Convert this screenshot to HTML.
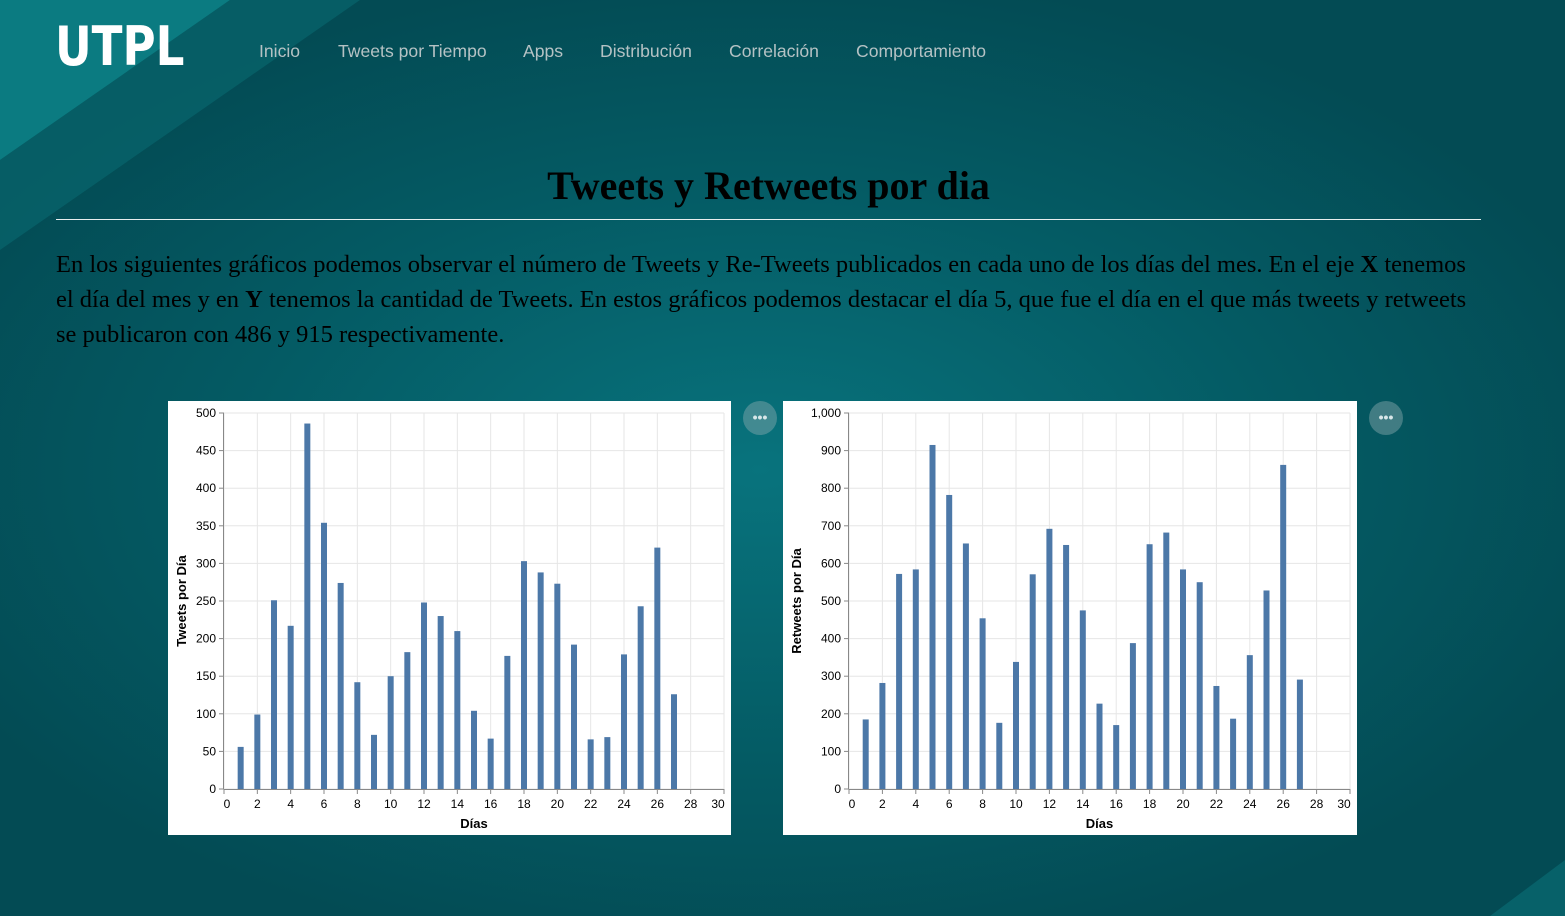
<!DOCTYPE html>
<html><head><meta charset="utf-8">
<style>
html,body{margin:0;padding:0;width:1565px;height:916px;overflow:hidden}
body{background:radial-gradient(ellipse 900px 500px at 760px 470px,#08737d 0%,#045a63 60%,#034b54 100%);font-family:"Liberation Sans",sans-serif;position:relative}
.abs{position:absolute}
#logo{left:55px;top:15px;color:#fff;font-size:54px;font-weight:bold;letter-spacing:0px;font-family:"DejaVu Sans Condensed","DejaVu Sans",sans-serif;transform:scaleX(0.93);transform-origin:left}
.nav{top:41px;color:#b5c2c4;font-size:17.6px}
#title{left:0;width:1537px;top:162px;text-align:center;font-family:"Liberation Serif",serif;font-weight:bold;font-size:40px;color:#000}
#hr{left:56px;top:219px;width:1425px;height:1px;background:#e8eeee}
#para{left:56px;top:247px;width:1418px;font-family:"Liberation Serif",serif;font-size:24.5px;line-height:35px;color:#000}
.panel{background:#fff;top:401px;height:434px}
.dots{width:34px;height:34px;border-radius:50%;background:rgba(140,170,175,0.45);top:401px;color:#d8e6e8;font-size:14px;text-align:center;line-height:32px;font-weight:bold}
</style></head><body>
<svg class="abs" style="left:0;top:0" width="1565" height="916">
<polygon points="0,0 230,0 0,160" fill="#0e878c" opacity="0.8"/>
<polygon points="230,0 360,0 0,250 0,160" fill="#0a6f75" opacity="0.5"/>
<polygon points="1565,860 1565,916 1490,916" fill="#0a7078" opacity="0.6"/>
</svg>
<div id="logo" class="abs">UTPL</div>
<div class="abs nav" style="left:259px">Inicio</div>
<div class="abs nav" style="left:338px">Tweets por Tiempo</div>
<div class="abs nav" style="left:523px">Apps</div>
<div class="abs nav" style="left:600px">Distribución</div>
<div class="abs nav" style="left:729px">Correlación</div>
<div class="abs nav" style="left:856px">Comportamiento</div>
<div id="title" class="abs">Tweets y Retweets por dia</div>
<div id="hr" class="abs"></div>
<div id="para" class="abs">En los siguientes gráficos podemos observar el número de Tweets y Re-Tweets publicados en cada uno de los días del mes. En el eje <b>X</b> tenemos el día del mes y en <b>Y</b> tenemos la cantidad de Tweets. En estos gráficos podemos destacar el día 5, que fue el día en el que más tweets y retweets se publicaron con 486 y 915 respectivamente.</div>
<div class="abs panel" style="left:168px;width:563px"><svg id="c1" width="563" height="434"></svg></div>
<div class="abs panel" style="left:783px;width:574px"><svg id="c2" width="574" height="434"></svg></div>
<div class="abs dots" style="left:743px">•••</div>
<div class="abs dots" style="left:1369px">•••</div>
<script>
const days=[1,2,3,4,5,6,7,8,9,10,11,12,13,14,15,16,17,18,19,20,21,22,23,24,25,26,27];
const tweets=[56,99,251,217,486,354,274,142,72,150,182,248,230,210,104,67,177,303,288,273,192,66,69,179,243,321,126];
const retweets=[185,282,572,584,915,782,653,454,176,338,571,692,649,475,227,170,388,651,682,584,550,274,187,356,528,862,291];
const xTicks=[0,2,4,6,8,10,12,14,16,18,20,22,24,26,28,30];
const yTicks1=[0,50,100,150,200,250,300,350,400,450,500];
const yTicks2=[0,100,200,300,400,500,600,700,800,900,1000];
const NS="http://www.w3.org/2000/svg";
function mk(svg,tag,attrs,text){const e=document.createElementNS(NS,tag);for(const k in attrs)e.setAttribute(k,attrs[k]);if(text!==undefined)e.textContent=text;svg.appendChild(e);return e;}
function draw(id,vals,yTicks,yMax,x0,x1,yLabel,prefix){
  const svg=document.getElementById(id);
  const top=12,bot=388;
  const xs=d=>x0+(d/30)*(x1-x0);
  const ys=v=>bot-(v/yMax)*(bot-top);
  xTicks.forEach(t=>{const l=mk(svg,'line',{x1:xs(t),x2:xs(t),y1:top,y2:bot,stroke:'#e6e6e6'});
    });
  yTicks.forEach(t=>{const l=mk(svg,'line',{x1:x0,x2:x1,y1:ys(t),y2:ys(t),stroke:'#e6e6e6'});
    });
  vals.forEach((v,i)=>{const r=mk(svg,'rect',{x:xs(days[i])-3,y:ys(v),width:6,height:bot-ys(v),fill:'#4c78a8'});
    });
  mk(svg,'line',{x1:x0,x2:x1,y1:bot+0.5,y2:bot+0.5,stroke:'#888'});
  mk(svg,'line',{x1:x0-0.5,x2:x0-0.5,y1:top,y2:bot,stroke:'#888'});
  xTicks.forEach((t,i)=>{mk(svg,'line',{x1:xs(t),x2:xs(t),y1:bot,y2:bot+5,stroke:'#888'});
    const off=t===0?3:(i===xTicks.length-1?-6:0);
    const tx=mk(svg,'text',{x:xs(t)+off,y:bot+19,'text-anchor':'middle','font-size':12,fill:'#000','font-family':'Liberation Sans, sans-serif'},String(t));
    });
  yTicks.forEach(t=>{mk(svg,'line',{x1:x0-5,x2:x0,y1:ys(t),y2:ys(t),stroke:'#888'});
    const tx=mk(svg,'text',{x:x0-8,y:ys(t)+4,'text-anchor':'end','font-size':12,fill:'#000','font-family':'Liberation Sans, sans-serif'},t.toLocaleString('en-US'));
    });
  const xt=mk(svg,'text',{x:(x0+x1)/2,y:bot+39,'text-anchor':'middle','font-size':13,'font-weight':'bold',fill:'#000','font-family':'Liberation Sans, sans-serif'},'Días');
  
  const yt=mk(svg,'text',{x:0,y:0,transform:`translate(18,${(top+bot)/2}) rotate(-90)`,'text-anchor':'middle','font-size':13,'font-weight':'bold',fill:'#000','font-family':'Liberation Sans, sans-serif'},yLabel);
  
}
draw('c1',tweets,yTicks1,500,56,556,'Tweets por Día','tweets');
draw('c2',retweets,yTicks2,1000,66,567,'Retweets por Día','retweets');
</script>
</body></html>
